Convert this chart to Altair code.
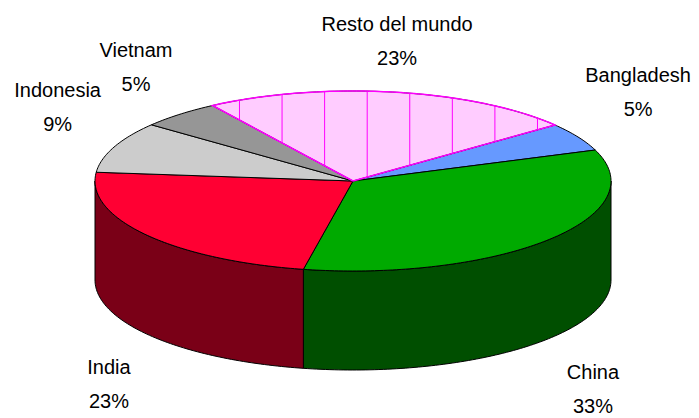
import numpy as np
import pandas as pd
import altair as alt

# ---------------- data ----------------
CATEGORIES = ["Bangladesh", "China", "India", "Indonesia", "Vietnam", "Resto del mundo"]
SHARES = [5, 33, 23, 9, 5, 23]
PCT_LABELS = ["5%", "33%", "23%", "9%", "5%", "23%"]

# ---------------- style / layout ----------------
TOP_COLORS = ["#6699FF", "#00AA00", "#FF0033", "#CCCCCC", "#969696", "#FFCCFF"]
SIDE_COLORS = ["#334C80", "#004F00", "#7A0017", "#666666", "#4B4B4B", "#806680"]
LABEL_X = [1.105, 0.930, -0.946, -1.145, -0.841, 0.171]
LABEL_Y = [1.10, -2.205, -2.145, 0.933, 1.378, 1.667]

START_ANGLE = 38.5
CX, CY, RX, RY, DEPTH_PX = 353, 181, 258, 90, 99
MARGIN = 8
W, H = 683, 410
DEPTH = DEPTH_PX / RY
HATCH_PHASE, HATCH_SPACING = -0.44, 0.165
FONT = "Liberation Sans"
FONT_SIZE = 20
LINE_GAP = 34

xscale = alt.Scale(domain=[-1, 1], range=[CX - RX - MARGIN, CX + RX - MARGIN])
yscale = alt.Scale(domain=[-1, 1], range=[CY + RY - MARGIN, CY - RY - MARGIN])

total = float(sum(SHARES))
top_rows, wall_rows = [], []
spans = []
a = START_ANGLE
for cat, share in zip(CATEGORIES, SHARES):
    a0 = a
    a1 = a - share / total * 360.0
    spans.append((a0, a1))
    n = int(abs(a0 - a1)) + 2
    angs = np.linspace(a0, a1, n)
    pts = [(0.0, 0.0)] + [(np.cos(np.radians(t)), np.sin(np.radians(t))) for t in angs] + [(0.0, 0.0)]
    for i, (px, py) in enumerate(pts):
        top_rows.append({"top": cat, "ord": i, "x": px, "y": py})
    # visible front wall: angles in [-180, 0]
    for off in (0.0, -360.0):
        lo = max(a1, -180.0 + off)
        hi = min(a0, 0.0 + off)
        if hi > lo:
            m = int(hi - lo) + 2
            ws = np.linspace(hi, lo, m)
            upper = [(np.cos(np.radians(t)), np.sin(np.radians(t))) for t in ws]
            lower = [(px, py - DEPTH) for (px, py) in upper[::-1]]
            poly = upper + lower + [upper[0]]
            for i, (px, py) in enumerate(poly):
                wall_rows.append({"wall": cat, "ord": i, "x": px, "y": py})
    a = a1

top_df = pd.DataFrame(top_rows)
wall_df = pd.DataFrame(wall_rows)

# hatch lines on "Resto del mundo"
r0, r1 = spans[-1]
left_t = np.radians(r0 % 360.0)
right_t = np.radians(r1 % 360.0)
hatch_rows = []
for k in range(-10, 20):
    hx = HATCH_PHASE + HATCH_SPACING * k
    if abs(hx) >= 1:
        continue
    topv = np.sqrt(1 - hx * hx)
    bot = hx * np.tan(left_t) if hx < 0 else hx * np.tan(right_t)
    if topv > bot + 0.02:
        hatch_rows.append({"x": hx, "y": topv, "y2": bot})
hatch_df = pd.DataFrame(hatch_rows)

resto_df = top_df[top_df["top"] == "Resto del mundo"]

label_df = pd.DataFrame({"name": CATEGORIES, "pct": PCT_LABELS, "x": LABEL_X, "y": LABEL_Y})

X = alt.X("x:Q", scale=xscale, axis=None)
Y = alt.Y("y:Q", scale=yscale, axis=None)

walls = alt.Chart(wall_df).mark_line(filled=True, stroke="black", strokeWidth=1).encode(
    x=X, y=Y, order="ord:Q",
    fill=alt.Fill("wall:N", scale=alt.Scale(domain=CATEGORIES, range=SIDE_COLORS), legend=None),
)

tops = alt.Chart(top_df).mark_line(filled=True, stroke="black", strokeWidth=1).encode(
    x=X, y=Y, order="ord:Q",
    fill=alt.Fill("top:N", scale=alt.Scale(domain=CATEGORIES, range=TOP_COLORS), legend=None),
)

hatch = alt.Chart(hatch_df).mark_rule(color="#FF00FF", strokeWidth=1).encode(
    x=X, y=Y, y2="y2:Q"
)

resto_edge = alt.Chart(resto_df).mark_line(color="#FF00FF", strokeWidth=1.5).encode(
    x=X, y=Y, order="ord:Q"
)

names = alt.Chart(label_df).mark_text(font=FONT, fontSize=FONT_SIZE, align="center", baseline="alphabetic", color="black").encode(
    x=X, y=Y, text="name:N"
)
pcts = alt.Chart(label_df).mark_text(font=FONT, fontSize=FONT_SIZE, align="center", baseline="alphabetic", dy=LINE_GAP, color="black").encode(
    x=X, y=Y, text="pct:N"
)

chart = alt.layer(walls, tops, hatch, resto_edge, names, pcts).resolve_scale(
    fill="independent"
).properties(
    width=W, height=H, autosize=alt.AutoSizeParams(type="none"), padding=0,
).configure_view(stroke=None)

chart.save("out.html", embed_options={"renderer": "svg", "actions": False})
